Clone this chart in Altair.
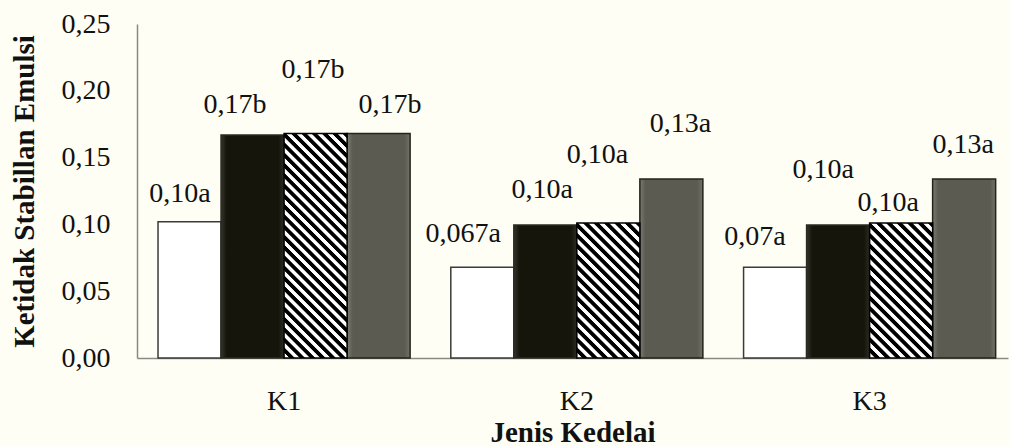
import math
import altair as alt
import pandas as pd

# ---------------- data ----------------
categories = ["K1", "K2", "K3"]
series = ["A1", "A2", "A3", "A4"]
values_a1 = [0.102, 0.068, 0.068]
values_a2 = [0.167, 0.0995, 0.0995]
values_a3 = [0.168, 0.101, 0.101]
values_a4 = [0.168, 0.134, 0.134]
labels_a1 = ["0,10a", "0,067a", "0,07a"]
labels_a2 = ["0,17b", "0,10a", "0,10a"]
labels_a3 = ["0,17b", "0,10a", "0,10a"]
labels_a4 = ["0,17b", "0,13a", "0,13a"]
y_ticks = [0.0, 0.05, 0.10, 0.15, 0.20, 0.25]

# label nudges (pixels), as the data labels were placed in the original
label_dx = {"A1": [-9.5, -19, -20], "A2": [-17.5, -3, -15],
            "A3": [-2.5, -11, -13], "A4": [11.5, 9, -1]}
label_rise = {"A1": [20, 25, 22], "A2": [22, 27, 47],
              "A3": [56, 60, 12], "A4": [21, 47, 26]}

# ---------------- layout / style ----------------
FONT = "Liberation Serif"
W, H = 871, 334
Y_MAX = 0.25
PAD_IN, PAD_OUT, ALIGN = 0.139, 0.057, 0.63
step = W / (len(categories) - PAD_IN + 2 * PAD_OUT)
bar_w = step * (1 - PAD_IN) / len(series)
px_per_unit = H / Y_MAX

vals = {"A1": values_a1, "A2": values_a2, "A3": values_a3, "A4": values_a4}
labs = {"A1": labels_a1, "A2": labels_a2, "A3": labels_a3, "A4": labels_a4}
rows = []
for si, s in enumerate(series):
    for ci, c in enumerate(categories):
        rows.append({
            "category": c, "series": s, "value": vals[s][ci], "label": labs[s][ci],
            "slot": si + 0.5 + label_dx[s][ci] / bar_w,
            "rise": label_rise[s][ci],
        })
df = pd.DataFrame(rows)

x_scale = alt.Scale(domain=categories, paddingInner=PAD_IN, paddingOuter=PAD_OUT, align=ALIGN)
y_scale = alt.Scale(domain=[0, Y_MAX], nice=False, zero=True)
off_scale = alt.Scale(domain=series, paddingInner=0, paddingOuter=0)

x_axis = alt.Axis(title="Jenis Kedelai", labelAngle=0, ticks=False, labelPadding=29,
                  titleY=83, titleBaseline="alphabetic")
y_axis = alt.Axis(title="Ketidak Stabillan Emulsi", values=y_ticks, ticks=False, grid=False,
                  labelPadding=27,
                  labelExpr="replace(format(datum.value, '.2f'), '.', ',')",
                  titleX=-104, titleBaseline="alphabetic")
x_enc = alt.X("category:N", scale=x_scale, sort=categories, axis=x_axis)
y_enc = alt.Y("value:Q", scale=y_scale, axis=y_axis)
off_enc = alt.XOffset("series:N", scale=off_scale)


def bevel(edge, mid, edge2):
    return {"gradient": "linear", "x1": 0, "y1": 0, "x2": 1, "y2": 0, "stops": [
        {"offset": 0.0, "color": edge},
        {"offset": 0.09, "color": mid},
        {"offset": 0.91, "color": mid},
        {"offset": 1.0, "color": edge2},
    ]}


bar_styles = {
    "A1": dict(fill="#ffffff", stroke="#3a3a36"),
    "A2": dict(fill=bevel("#34342b", "#15150c", "#2c2c24"), stroke="#2a2a22"),
    "A4": dict(fill=bevel("#7a7a70", "#5b5b51", "#727268"), stroke="#24241d"),
}

layers = []
for s, st in bar_styles.items():
    layers.append(
        alt.Chart(df).transform_filter(alt.datum.series == s)
        .mark_bar(strokeWidth=1.5, **st)
        .encode(x=x_enc, xOffset=off_enc, y=y_enc)
    )


def hatch_gradient(h_px, w_px, period=7.2, dark=0.42):
    k = (w_px + h_px) / (w_px ** 2 + h_px ** 2)
    span = (w_px + h_px) / math.sqrt(2)
    n = max(1, round(span / period))
    stops = []
    for i in range(n):
        a = i / n
        b = (i + dark) / n
        e = (i + 1) / n
        stops += [
            {"offset": a, "color": "#000000"},
            {"offset": b, "color": "#000000"},
            {"offset": b + 0.1 / n, "color": "#ffffff"},
            {"offset": e - 0.1 / n, "color": "#ffffff"},
        ]
    return {"gradient": "linear", "x1": 1, "y1": 0, "x2": 1 - k * w_px, "y2": k * h_px, "stops": stops}


for ci, c in enumerate(categories):
    h_px = vals["A3"][ci] * px_per_unit
    layers.append(
        alt.Chart(df).transform_filter(
            (alt.datum.series == "A3") & (alt.datum.category == c)
        ).mark_bar(fill=hatch_gradient(h_px, bar_w), stroke="#000000", strokeWidth=1.5)
        .encode(x=x_enc, xOffset=off_enc, y=y_enc)
    )

text = alt.Chart(df).transform_calculate(
    ly=f"datum.value + datum.rise / {px_per_unit}"
).mark_text(font=FONT, fontSize=28, baseline="alphabetic", align="center",
            color="#111111").encode(
    x=x_enc,
    xOffset=alt.XOffset("slot:Q", scale=alt.Scale(domain=[0, len(series)])),
    y=alt.Y("ly:Q", scale=y_scale, axis=y_axis),
    text="label:N",
)
layers.append(text)

chart = alt.layer(*layers).resolve_scale(
    xOffset="independent"
).properties(
    width=W, height=H,
    autosize=alt.AutoSizeParams(type="none"),
    padding={"left": 137, "top": 24, "right": 2, "bottom": 88},
    background="#fefef4",
).configure_view(stroke=None).configure_axis(
    labelFont=FONT, labelFontSize=28, labelColor="#111111",
    titleFont=FONT, titleFontSize=29, titleFontWeight="bold", titleColor="#111111",
    domainColor="#8a8a84", domainWidth=1.5,
)

chart.save("out.html", embed_options={"renderer": "svg", "actions": False})
